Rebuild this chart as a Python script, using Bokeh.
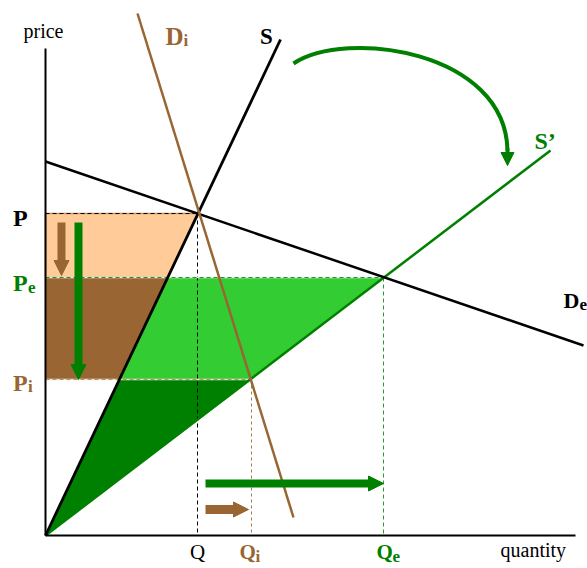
import numpy as np
from bokeh.plotting import figure
from bokeh.models import Range1d, Arrow, NormalHead
from bokeh.core.properties import value
from bokeh.embed import file_html
from bokeh.resources import INLINE

# ---- market values (quantity, price) ----
Q, Qi, Qe = 15.2, 20.6, 33.8
P, Pe, Pi = 32.2, 25.8, 15.6

# curves (endpoints)
S_q, S_p = [0.0, 23.5], [0.0, 49.6]          # supply S
S2_q, S2_p = [0.0, 50.5], [0.0, 38.5]        # supply S'
De_q, De_p = [0.0, 53.8], [37.4, 19.0]       # demand De
Di_q, Di_p = [9.2, 24.8], [52.2, 1.8]        # demand Di

# axes extent
axis_q_max, axis_p_max = 53.0, 48.7

# arrows: (q_start, p_start, q_end, p_end)
arrow_brown_down = [1.6, 31.3, 1.6, 26.0]
arrow_green_down = [3.3, 31.3, 3.3, 15.6]
arrow_green_right = [16.0, 5.2, 33.8, 5.2]
arrow_brown_right = [16.0, 2.6, 20.3, 2.6]
# curved shift arrow (bezier)
curve_q = [24.8, 30.0, 46.0, 46.2]
curve_p = [47.2, 50.7, 48.5, 38.5]
curve_tip_p = 37.0

BROWN = "#996633"
GREEN = "#008000"
LGREEN = "#33CC33"
PEACH = "#FFCC99"
FONT = value("Liberation Serif")
TEXT_DY = 0.75   # baseline correction

# supply S quantity at a given price
def s_q_at(price):
    return float(np.interp(price, S_p, S_q))

qS_Pe = s_q_at(Pe)
qS_Pi = s_q_at(Pi)

p = figure(width=587, height=568, x_range=Range1d(-4.5, 54.2), y_range=Range1d(-3.3, 53.5),
           output_backend="svg", toolbar_location=None, min_border=0)
p.axis.visible = False
p.grid.visible = False
p.outline_line_color = None
p.background_fill_color = "white"

# ---- shaded areas ----
p.patch([0, Q, qS_Pe, 0], [P, P, Pe, Pe], fill_color=PEACH, line_color="#C8935E", line_width=1.5)
p.patch([0, qS_Pe, qS_Pi, 0], [Pe, Pe, Pi, Pi], fill_color=BROWN, line_color="#B58A5E", line_width=1.2)
p.patch([qS_Pe, Qe, Qi, qS_Pi], [Pe, Pe, Pi, Pi], fill_color=LGREEN, line_color="#8FDC8F", line_width=1.2)
p.patch([0, qS_Pi, Qi], [0, Pi, Pi], fill_color=GREEN, line_color="#7FBF7F", line_width=1.0)

# ---- guide lines ----
p.line([0, Q], [P, P], line_color="black", line_dash="4 3", line_width=1)
p.line([Q, Q], [P, 0], line_color="black", line_dash="4 3", line_width=1)
p.line([0, Qe], [Pe, Pe], line_color="#E8F4E8", line_width=1.5)
p.line([0, Qe], [Pe, Pe], line_color="#2E8B2E", line_dash="4 3", line_width=1)
p.line([Qe, Qe], [Pe, 0], line_color="#2E9A2E", line_dash="4 3", line_width=1)
p.line([0, Qi], [Pi, Pi], line_color="#EEE6DA", line_width=1.5)
p.line([0, Qi], [Pi, Pi], line_color="#B8936A", line_dash="4 3", line_width=1)
p.line([Qi, Qi], [Pi, 0], line_color="#A87A4E", line_dash="3 3", line_width=1)

# ---- curves ----
p.line(S2_q, S2_p, line_color=GREEN, line_width=2.5)
p.line(De_q, De_p, line_color="black", line_width=2.5)
p.line(S_q, S_p, line_color="black", line_width=2.8)
p.line(Di_q, Di_p, line_color=BROWN, line_width=2.5)

# ---- arrows ----
def add_arrow(a, color, width, size):
    p.add_layout(Arrow(end=NormalHead(size=size, fill_color=color, line_color=color),
                       x_start=a[0], y_start=a[1], x_end=a[2], y_end=a[3],
                       line_color=color, line_width=width))

add_arrow(arrow_brown_down, BROWN, 8, 15)
add_arrow(arrow_green_down, GREEN, 8, 15)
add_arrow(arrow_green_right, GREEN, 8, 15)
add_arrow(arrow_brown_right, BROWN, 9, 15)

p.bezier(x0=[curve_q[0]], y0=[curve_p[0]], cx0=[curve_q[1]], cy0=[curve_p[1]],
         cx1=[curve_q[2]], cy1=[curve_p[2]], x1=[curve_q[3]], y1=[curve_p[3]],
         line_color=GREEN, line_width=4)
p.add_layout(Arrow(end=NormalHead(size=13, fill_color=GREEN, line_color=GREEN),
                   x_start=curve_q[3], y_start=curve_p[3] + 0.2, x_end=curve_q[3], y_end=curve_tip_p,
                   line_color=GREEN, line_width=4))

# ---- axes ----
p.line([0, 0], [0, axis_p_max], line_color="black", line_width=2)
p.line([0, axis_q_max], [0, 0], line_color="black", line_width=2)

# ---- labels ----
def txt(x, y, s, color="black", size="20px", bold=True, align="left"):
    p.text(x=[x], y=[y + TEXT_DY], text=[s], text_color=color, text_font=FONT,
           text_font_size=size, text_font_style="bold" if bold else "normal",
           text_align=align, text_baseline="alphabetic")

txt(-0.2, 49.7, "price", bold=False, align="center")
txt(45.5, -2.2, "quantity", bold=False)
txt(Q, -2.4, "Q", bold=False, align="center", size="21px")
txt(19.4, -2.4, "Q", color=BROWN, size="21px")
txt(21.0, -2.8, "i", color=BROWN, size="17px")
txt(33.1, -2.4, "Q", color=GREEN, size="21px")
txt(34.7, -2.8, "e", color=GREEN, size="17px")

txt(-3.25, 31.0, "P", size="24px")
txt(-3.25, 24.5, "P", color=GREEN, size="24px")
txt(-1.75, 24.1, "e", color=GREEN, size="17px")
txt(-3.25, 14.5, "P", color=BROWN, size="24px")
txt(-1.75, 14.2, "i", color=BROWN, size="17px")

txt(12.0, 49.2, "D", color=BROWN, size="25px")
txt(13.8, 48.8, "i", color=BROWN, size="17px")
txt(21.45, 49.2, "S", size="23px")
txt(48.9, 38.7, "S\u2019", color=GREEN, size="24px")
txt(51.8, 22.8, "D", size="22px")
txt(53.4, 22.4, "e", size="17px")

open("out.html", "w").write(file_html(p, INLINE))
